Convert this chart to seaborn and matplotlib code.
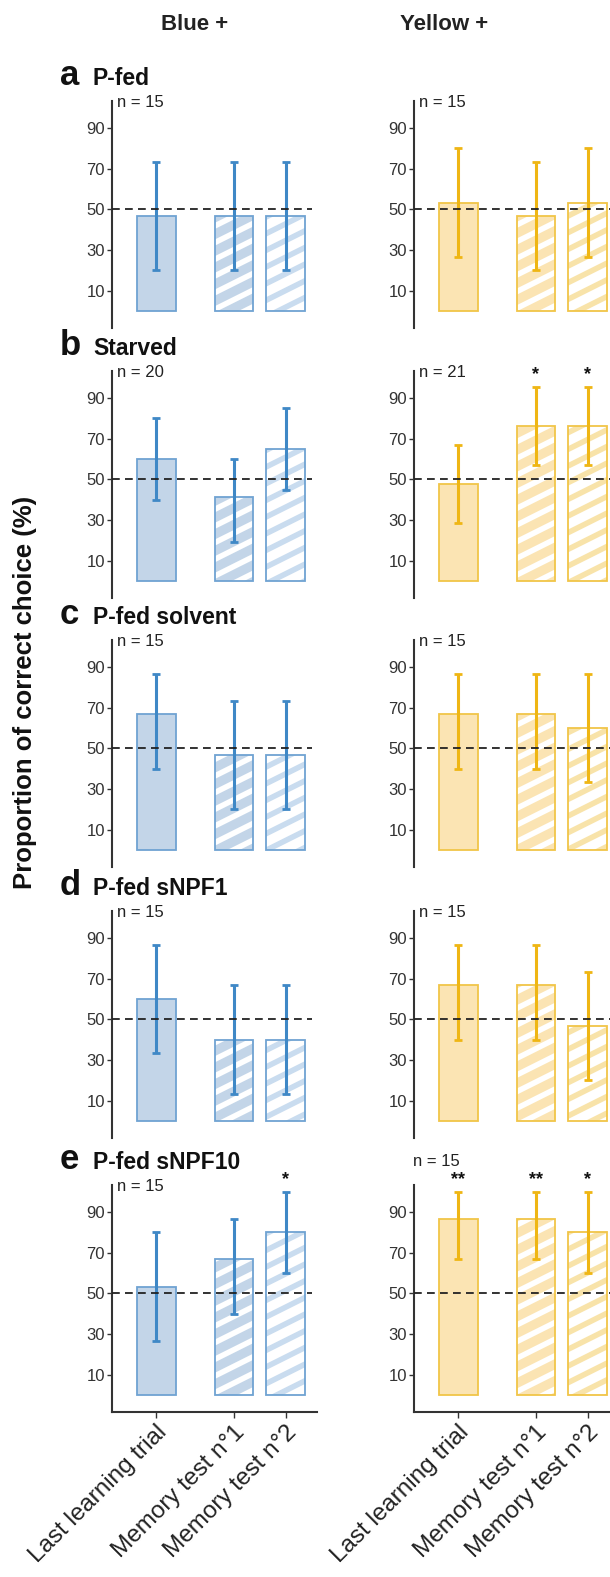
import numpy as np
import pandas as pd
import matplotlib
matplotlib.use("Agg")
import matplotlib.pyplot as plt
import matplotlib.hatch as mhatch
from matplotlib.path import Path
import seaborn as sns

sns.set_theme(style="white")
plt.rcParams["font.family"] = ["Liberation Sans", "DejaVu Sans"]
plt.rcParams["hatch.linewidth"] = 4.0

# ---------------------------------------------------------------- data
panel_letters = ["a", "b", "c", "d", "e"]
conditions = ["P-fed", "Starved", "P-fed solvent", "P-fed sNPF1", "P-fed sNPF10"]
tests = ["Last learning trial", "Memory test n°1", "Memory test n°2"]
test_pos = [1.0, 2.5, 3.5]
y_ticks = [10, 30, 50, 70, 90]
chance_level = 50

# Blue+ conditioned bees: mean % correct and 95% CI bounds per test
blue_n = [15, 20, 15, 15, 15]
blue_mean = [[46.7, 46.7, 46.7],
             [60.0, 41.2, 64.7],
             [66.7, 46.7, 46.7],
             [60.0, 40.0, 40.0],
             [53.3, 66.7, 80.0]]
blue_lo = [[20.0, 20.0, 20.0],
           [40.0, 19.5, 45.0],
           [40.0, 20.0, 20.0],
           [33.3, 13.3, 13.3],
           [26.7, 40.0, 60.0]]
blue_hi = [[73.3, 73.3, 73.3],
           [80.0, 60.0, 85.2],
           [86.7, 73.3, 73.3],
           [86.7, 66.7, 66.7],
           [80.0, 86.7, 100.0]]
blue_sig = [["", "", ""],
            ["", "", ""],
            ["", "", ""],
            ["", "", ""],
            ["", "", "*"]]

# Yellow+ conditioned bees
yellow_n = [15, 21, 15, 15, 15]
yellow_mean = [[53.3, 46.7, 53.3],
               [47.6, 76.2, 76.2],
               [66.7, 66.7, 60.0],
               [66.7, 66.7, 46.7],
               [86.7, 86.7, 80.0]]
yellow_lo = [[26.7, 20.0, 26.7],
             [28.6, 57.0, 57.0],
             [40.0, 40.0, 33.3],
             [40.0, 40.0, 20.0],
             [66.7, 66.7, 60.0]]
yellow_hi = [[80.0, 73.3, 80.0],
             [66.7, 95.3, 95.3],
             [86.7, 86.7, 86.7],
             [86.7, 86.7, 73.3],
             [100.0, 100.0, 100.0]]
yellow_sig = [["", "", ""],
              ["", "*", "*"],
              ["", "", ""],
              ["", "", ""],
              ["**", "**", "*"]]


# ---------------------------------------------------------------- hatch
class ShallowStripes(mhatch.HatchPatternBase):
    """'/' hatch drawn as shallow (slope 1/2) stripes instead of 45 deg."""

    per_unit = 6  # stripes per hatch tile (must be even to tile seamlessly)

    def __init__(self, hatch, density):
        n = self.per_unit if "/" in hatch else 0
        if n:
            self.offsets = np.arange(-1.0, 1.25 + 1e-9, 1.0 / n)
        else:
            self.offsets = np.array([])
        self.num_vertices = 2 * len(self.offsets)

    def set_vertices_and_codes(self, vertices, codes):
        x0, x1 = -0.25, 1.25
        for i, c in enumerate(self.offsets):
            vertices[2 * i] = (x0, c + 0.5 * x0)
            vertices[2 * i + 1] = (x1, c + 0.5 * x1)
            codes[2 * i] = Path.MOVETO
            codes[2 * i + 1] = Path.LINETO


mhatch._hatch_types = [ShallowStripes if t is mhatch.NorthEastHatch else t
                       for t in mhatch._hatch_types]

# ---------------------------------------------------------------- styles
palettes = {
    "blue": dict(fill="#c3d5e8", edge="#6fa3d2", err="#3f88c6",
                 stripe="#c9dcef"),
    "yellow": dict(fill="#fbe4b3", edge="#f1c548", err="#efb614",
                   stripe="#f8e3a9"),
}

W, H = 610, 1577
fig = plt.figure(figsize=(W / 100, H / 100), dpi=100)


def frac_rect(left, top, width, height):
    return [left / W, 1 - (top + height) / H, width / W, height / H]


def fig_xy(x, y):
    return x / W, 1 - y / H


axis_tops = [100.5, 370.5, 639.5, 910.5, 1184.5]
axis_height = 227
axis_width = 205
col_left = {"blue": 112, "yellow": 414}
ylim = (-8, 103.5)
xlim = (0.15, 4.1)


def draw_panel(ax, means, lo, hi, sig, pal, last_row):
    df = pd.DataFrame({"pos": test_pos, "pct": means, "test": tests})
    # filled / hatched bodies
    sns.barplot(data=df, x="pos", y="pct", native_scale=True, width=0.75,
                errorbar=None, color=pal["fill"], saturation=1, ax=ax,
                linewidth=0)
    bodies = ax.patches[:3]
    bodies[0].set_facecolor(pal["fill"])
    bodies[0].set_linewidth(0)
    bodies[1].set_facecolor(pal["fill"])
    bodies[1].set_edgecolor("white")
    bodies[1].set_hatch("/")
    bodies[1].set_linewidth(0)
    bodies[2].set_facecolor("white")
    bodies[2].set_edgecolor(pal["stripe"])
    bodies[2].set_hatch("/")
    bodies[2].set_linewidth(0)
    # outlines
    sns.barplot(data=df, x="pos", y="pct", native_scale=True, width=0.75,
                errorbar=None, fill=False, edgecolor=pal["edge"],
                linewidth=1.3, ax=ax)

    m = np.array(means)
    yerr = [m - np.array(lo), np.array(hi) - m]
    ax.errorbar(test_pos, m, yerr=yerr, fmt="none", ecolor=pal["err"],
                elinewidth=2.2, capsize=3, capthick=2, zorder=5)

    ax.hlines(chance_level, xlim[0], 4.0, colors="#222222", linewidth=1.3,
              linestyles=(0, (4.3, 2.9)), zorder=6)

    for p, h, s in zip(test_pos, hi, sig):
        if s:
            ax.text(p, h + 6, s, ha="center", va="center", fontsize=13,
                    fontweight="bold", color="#111111", clip_on=False)

    ax.set_xlim(*xlim)
    ax.set_ylim(*ylim)
    ax.set_yticks(y_ticks)
    ax.set_yticklabels([str(t) for t in y_ticks])
    ax.set_xlabel("")
    ax.set_ylabel("")
    for side in ["top", "right"]:
        ax.spines[side].set_visible(False)
    ax.spines["left"].set_color("#333333")
    ax.spines["left"].set_linewidth(1.5)
    ax.tick_params(axis="y", left=True, length=3.5, width=1.0,
                   color="#333333", labelsize=12, labelcolor="#333333",
                   pad=1.5)
    if last_row:
        ax.spines["bottom"].set_color("#333333")
        ax.spines["bottom"].set_linewidth(1.5)
        ax.set_xticks(test_pos)
        ax.set_xticklabels(tests, rotation=45, ha="right",
                           rotation_mode="anchor", fontsize=17.5,
                           color="#222222")
        ax.tick_params(axis="x", bottom=True, length=4, width=1.0,
                       color="#333333", pad=3)
    else:
        ax.spines["bottom"].set_visible(False)
        ax.set_xticks([])


data_sets = {
    "blue": (blue_n, blue_mean, blue_lo, blue_hi, blue_sig),
    "yellow": (yellow_n, yellow_mean, yellow_lo, yellow_hi, yellow_sig),
}

for r in range(5):
    top = axis_tops[r]
    for col in ["blue", "yellow"]:
        n_vals, mean_vals, lo_vals, hi_vals, sig_vals = data_sets[col]
        ax = fig.add_axes(frac_rect(col_left[col], top, axis_width,
                                    axis_height))
        ax.set_facecolor("none")
        draw_panel(ax, mean_vals[r], lo_vals[r], hi_vals[r], sig_vals[r],
                   palettes[col], r == 4)
        # sample size
        if col == "yellow" and r == 4:
            nx, ny = 413, top - 19
        else:
            nx, ny = col_left[col] + 5, top + 6.5
        fig.text(*fig_xy(nx, ny), f"n = {n_vals[r]}", fontsize=12,
                 color="#222222", ha="left", va="baseline")
    # row heading
    base = top - 15.5
    fig.text(*fig_xy(60, base), panel_letters[r], fontsize=25,
             fontweight="bold", color="#111111", ha="left", va="baseline")
    fig.text(*fig_xy(93, base), conditions[r], fontsize=16.5,
             fontweight="bold", color="#111111", ha="left", va="baseline")

# column headings
fig.text(*fig_xy(195, 25), "Blue +", fontsize=16, fontweight="bold",
         color="#222222", ha="center", va="center")
fig.text(*fig_xy(444, 25), "Yellow +", fontsize=16, fontweight="bold",
         color="#222222", ha="center", va="center")

# shared y label
fig.text(*fig_xy(25, 692), "Proportion of correct choice (%)", fontsize=18.5,
         fontweight="bold", color="#111111", rotation=90, ha="center",
         va="center")

fig.savefig("out.png", dpi=100, facecolor="white")
